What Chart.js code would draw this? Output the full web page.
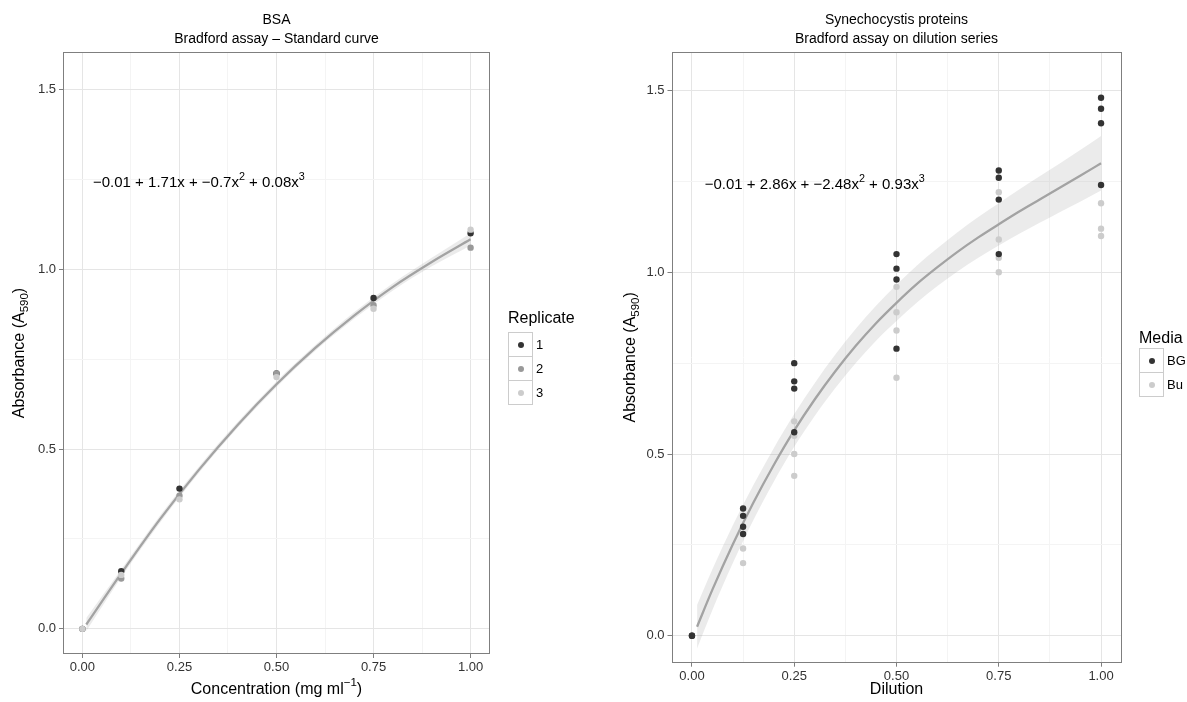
<!DOCTYPE html>
<html>
<head>
<meta charset="utf-8">
<script src="https://cdn.jsdelivr.net/npm/chart.js@4"></script>
<style>
  body { margin: 0; background: #fff; font-family: "Liberation Sans", Arial, sans-serif; }
  #wrap { position: relative; width: 1187px; height: 702px; overflow: hidden; }
  canvas { position: absolute; top: 0; }
  .lg-title { position: absolute; font-size: 16px; line-height: 18px; color: #000; white-space: nowrap; }
  .lg-key { position: absolute; width: 23px; height: 23px; border: 1px solid #ccc; background: #fff; box-sizing: content-box; }
  .lg-key span { position: absolute; left: 9px; top: 9px; width: 6px; height: 6px; border-radius: 50%; }
  .lg-label { position: absolute; font-size: 13px; line-height: 15px; color: #000; }
</style>
</head>
<body>
<div id="wrap">
  <canvas id="bsa" width="600" height="702" style="left:0"></canvas>
  <canvas id="dil" width="587" height="702" style="left:600px"></canvas>
</div>
<script>
// ticks
const xTicksMajor = [0, 0.25, 0.5, 0.75, 1];
const xTicksMinor = [0.125, 0.375, 0.625, 0.875];
const yTicksMajor = [0, 0.5, 1, 1.5];
const yTicksMinor = [0.25, 0.75, 1.25];

// BSA standard curve
const bsaConc = [0, 0.1, 0.25, 0.5, 0.75, 1];
const bsaRep1 = [0, 0.16, 0.39, 0.71, 0.92, 1.10];
const bsaRep2 = [0, 0.14, 0.37, 0.71, 0.90, 1.06];
const bsaRep3 = [0, 0.15, 0.36, 0.70, 0.89, 1.11];
const bsaFitX = [0.01, 0.1, 0.2, 0.3, 0.4, 0.5, 0.6, 0.7, 0.8, 0.9, 1.0];
const bsaFitY = [0.012, 0.154, 0.305, 0.442, 0.567, 0.680, 0.781, 0.871, 0.951, 1.020, 1.083];
const bsaFitHi = [0.030, 0.165, 0.315, 0.451, 0.575, 0.688, 0.789, 0.880, 0.961, 1.032, 1.100];
const bsaFitLo = [-0.006, 0.143, 0.295, 0.433, 0.559, 0.672, 0.773, 0.862, 0.941, 1.008, 1.066];
const replicates = ['1', '2', '3'];
const repColors = ['#333333', '#999999', '#cccccc'];

// Synechocystis dilution series
const dilution = [0, 0.125, 0.25, 0.5, 0.75, 1];
const bgAbs = [[0, 0], [0.35, 0.33, 0.30, 0.28], [0.75, 0.70, 0.68, 0.56], [1.05, 1.01, 0.98, 0.79], [1.28, 1.26, 1.20, 1.05], [1.48, 1.45, 1.41, 1.24]];
const buAbs = [[0], [0.24, 0.20], [0.59, 0.55, 0.50, 0.44], [0.96, 0.89, 0.84, 0.71], [1.22, 1.09, 1.04, 1.00], [1.19, 1.12, 1.10]];
const dilFitX = [0.0125, 0.05, 0.1, 0.15, 0.2, 0.25, 0.3, 0.35, 0.4, 0.45, 0.5, 0.55, 0.6, 0.65, 0.7, 0.75, 0.8, 0.85, 0.9, 0.95, 1];
const dilFitY = [0.025, 0.127, 0.252, 0.366, 0.470, 0.565, 0.650, 0.727, 0.797, 0.860, 0.916, 0.968, 1.014, 1.057, 1.096, 1.132, 1.167, 1.200, 1.233, 1.266, 1.300];
const dilFitHi = [0.085, 0.183, 0.304, 0.414, 0.516, 0.610, 0.695, 0.773, 0.844, 0.908, 0.966, 1.019, 1.066, 1.111, 1.152, 1.190, 1.228, 1.264, 1.300, 1.337, 1.375];
const dilFitLo = [-0.035, 0.071, 0.200, 0.318, 0.424, 0.520, 0.605, 0.681, 0.750, 0.812, 0.866, 0.917, 0.962, 1.003, 1.040, 1.074, 1.106, 1.136, 1.166, 1.195, 1.225];
const media = ['BG', 'Bu'];
const mediaColors = ['#333333', '#cccccc'];

const FONT = '"Liberation Sans", Arial, sans-serif';

function xy(xs, ys) { return xs.map((x, i) => ({ x: x, y: ys[i] })); }
function groups(xs, yss) {
  const out = [];
  xs.forEach((x, i) => yss[i].forEach(y => out.push({ x: x, y: y })));
  return out;
}

// text with super/subscripts
function drawRich(ctx, segs, x, y, size) {
  const widths = segs.map(s => {
    ctx.font = (s.sup || s.sub ? size * 0.72 : size) + 'px ' + FONT;
    return ctx.measureText(s.t).width;
  });
  let cx = x - widths.reduce((a, b) => a + b, 0) / 2;
  ctx.textBaseline = 'middle';
  ctx.textAlign = 'left';
  segs.forEach((s, i) => {
    ctx.font = (s.sup || s.sub ? size * 0.72 : size) + 'px ' + FONT;
    const dy = s.sup ? -size * 0.42 : (s.sub ? size * 0.3 : 0);
    ctx.fillText(s.t, cx, y + dy);
    cx += widths[i];
  });
}

const decor = {
  id: 'decor',
  afterDraw(chart, args, o) {
    const ctx = chart.ctx, a = chart.chartArea;
    const cx = (a.left + a.right) / 2;
    ctx.save();
    ctx.strokeStyle = '#7f7f7f';
    ctx.lineWidth = 1;
    ctx.strokeRect(Math.round(a.left) + 0.5, Math.round(a.top) + 0.5, Math.round(a.right - a.left) - 1, Math.round(a.bottom - a.top) - 1);
    ctx.fillStyle = '#000';
    ctx.textAlign = 'center';
    ctx.textBaseline = 'middle';
    ctx.font = '14px ' + FONT;
    o.title.forEach((t, i) => ctx.fillText(t, cx, 20 + i * 19));
    drawRich(ctx, o.xTitle, cx, 690, 16);
    ctx.save();
    ctx.translate(o.yTitleX, (a.top + a.bottom) / 2);
    ctx.rotate(-Math.PI / 2);
    drawRich(ctx, o.yTitle, 0, 0, 16);
    ctx.restore();
    const sx = chart.scales.x, sy = chart.scales.y;
    drawRich(ctx, o.eq, sx.getPixelForValue(o.eqAt[0]), sy.getPixelForValue(o.eqAt[1]), 15);
    ctx.restore();
  }
};

function makeChart(id, datasets, pad, yWidth, xHeight, yMin, yMax, decorOpts) {
  const xAll = xTicksMajor.concat(xTicksMinor).sort((p, q) => p - q);
  const yAll = yTicksMajor.concat(yTicksMinor).sort((p, q) => p - q);
  const gridColor = major => ctx => major.includes(ctx.tick && ctx.tick.value) ? '#e5e5e5' : '#f4f4f4';
  const tickColor = major => ctx => major.includes(ctx.tick && ctx.tick.value) ? '#7f7f7f' : 'rgba(0,0,0,0)';
  return new Chart(document.getElementById(id), {
    type: 'scatter',
    data: { datasets: datasets },
    options: {
      responsive: false,
      animation: false,
      events: [],
      layout: { padding: pad },
      plugins: { legend: { display: false }, tooltip: { enabled: false }, decor: decorOpts },
      scales: {
        x: {
          type: 'linear', min: -0.05, max: 1.05,
          afterBuildTicks: s => { s.ticks = xAll.map(v => ({ value: v })); },
          afterFit: s => { s.height = xHeight; },
          ticks: {
            autoSkip: false, maxRotation: 0, padding: 2, color: '#333333',
            font: { family: FONT, size: 13 },
            callback: v => xTicksMajor.includes(v) ? v.toFixed(2) : ''
          },
          grid: { color: gridColor(xTicksMajor), tickColor: tickColor(xTicksMajor), tickLength: 4, lineWidth: 1 },
          border: { display: false }
        },
        y: {
          type: 'linear', min: yMin, max: yMax,
          afterBuildTicks: s => { s.ticks = yAll.map(v => ({ value: v })); },
          afterFit: s => { s.width = yWidth; },
          ticks: {
            autoSkip: false, padding: 3, color: '#333333',
            font: { family: FONT, size: 13 },
            callback: v => yTicksMajor.includes(v) ? v.toFixed(1) : ''
          },
          grid: { color: gridColor(yTicksMajor), tickColor: tickColor(yTicksMajor), tickLength: 4, lineWidth: 1 },
          border: { display: false }
        }
      }
    },
    plugins: [decor]
  });
}

function ribbon(xs, hi, lo) {
  return [
    { data: xy(xs, hi), showLine: true, pointRadius: 0, borderWidth: 0, cubicInterpolationMode: 'monotone', backgroundColor: 'rgba(153,153,153,0.2)', fill: '+1', order: 10 },
    { data: xy(xs, lo), showLine: true, pointRadius: 0, borderWidth: 0, cubicInterpolationMode: 'monotone', fill: false, order: 10 }
  ];
}
function fitLine(xs, ys) {
  return { data: xy(xs, ys), showLine: true, pointRadius: 0, borderColor: '#a3a3a3', borderWidth: 2.3, cubicInterpolationMode: 'monotone', fill: false, order: 5 };
}
function pts(data, color, order) {
  return { data: data, pointRadius: 3.2, pointBorderWidth: 0, pointBackgroundColor: color, backgroundColor: color, order: order };
}

const bsaReps = [bsaRep1, bsaRep2, bsaRep3];
makeChart('bsa',
  ribbon(bsaFitX, bsaFitHi, bsaFitLo).concat([
    fitLine(bsaFitX, bsaFitY),
    ...bsaReps.map((r, i) => pts(xy(bsaConc, r), repColors[i], 3 - i))
  ]),
  { left: 0, top: 52, right: 110, bottom: 0 }, 63, 48, -0.07, 1.604,
  {
    title: ['BSA', 'Bradford assay \u2013 Standard curve'],
    xTitle: [{ t: 'Concentration (mg ml' }, { t: '\u22121', sup: true }, { t: ')' }],
    yTitle: [{ t: 'Absorbance (A' }, { t: '590', sub: true }, { t: ')' }],
    yTitleX: 20,
    eq: [{ t: '\u22120.01 + 1.71x + \u22120.7x' }, { t: '2', sup: true }, { t: ' + 0.08x' }, { t: '3', sup: true }],
    eqAt: [0.3, 1.24]
  });

makeChart('dil',
  ribbon(dilFitX, dilFitHi, dilFitLo).concat([
    fitLine(dilFitX, dilFitY),
    pts(groups(dilution, bgAbs), mediaColors[0], 1),
    pts(groups(dilution, buAbs), mediaColors[1], 2)
  ]),
  { left: 0, top: 52, right: 65.5, bottom: 0 }, 71.5, 39.3, -0.074, 1.606,
  {
    title: ['Synechocystis proteins', 'Bradford assay on dilution series'],
    xTitle: [{ t: 'Dilution' }],
    yTitle: [{ t: 'Absorbance (A' }, { t: '590', sub: true }, { t: ')' }],
    yTitleX: 31,
    eq: [{ t: '\u22120.01 + 2.86x + \u22122.48x' }, { t: '2', sup: true }, { t: ' + 0.93x' }, { t: '3', sup: true }],
    eqAt: [0.3, 1.24]
  });

// legends
function legend(title, labels, colors, left, titleTop, keysTop) {
  const wrap = document.getElementById('wrap');
  const t = document.createElement('div');
  t.className = 'lg-title';
  t.style.left = left + 'px';
  t.style.top = titleTop + 'px';
  t.textContent = title;
  wrap.appendChild(t);
  labels.forEach((lab, i) => {
    const k = document.createElement('div');
    k.className = 'lg-key';
    k.style.left = left + 'px';
    k.style.top = (keysTop + i * 24) + 'px';
    const dot = document.createElement('span');
    dot.style.background = colors[i];
    k.appendChild(dot);
    wrap.appendChild(k);
    const l = document.createElement('div');
    l.className = 'lg-label';
    l.style.left = (left + 28) + 'px';
    l.style.top = (keysTop + i * 24 + 5) + 'px';
    l.textContent = lab;
    wrap.appendChild(l);
  });
}
legend('Replicate', replicates, repColors, 508, 309, 332);
legend('Media', media, mediaColors, 1139, 329, 348);
</script>
</body>
</html>
